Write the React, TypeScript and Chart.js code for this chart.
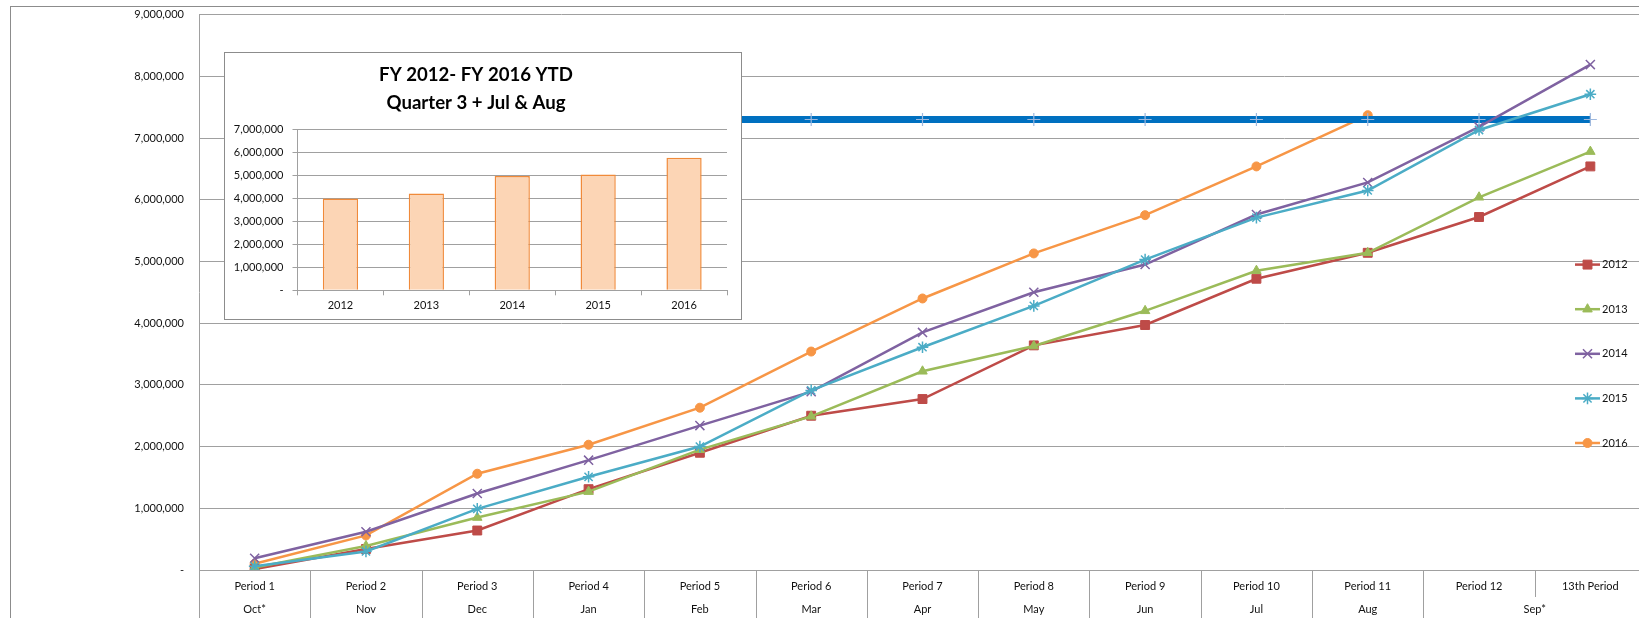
import React, { useEffect, useRef } from 'react';
import { Chart, registerables } from 'chart.js';
import { drawPoint } from 'chart.js/helpers';

Chart.register(...registerables);

// ---------- data ----------
const periods = ['Period 1', 'Period 2', 'Period 3', 'Period 4', 'Period 5', 'Period 6', 'Period 7', 'Period 8', 'Period 9', 'Period 10', 'Period 11', 'Period 12', '13th Period'];
const months = ['Oct*', 'Nov', 'Dec', 'Jan', 'Feb', 'Mar', 'Apr', 'May', 'Jun', 'Jul', 'Aug', 'Sep*'];
const monthSpans = [1, 1, 1, 1, 1, 1, 1, 1, 1, 1, 1, 2];

const fy2012 = [15000, 340000, 640000, 1310000, 1900000, 2500000, 2770000, 3640000, 3970000, 4720000, 5140000, 5720000, 6540000];
const fy2013 = [40000, 390000, 850000, 1270000, 1950000, 2490000, 3220000, 3630000, 4200000, 4850000, 5140000, 6040000, 6780000];
const fy2014 = [190000, 620000, 1240000, 1780000, 2340000, 2890000, 3850000, 4500000, 4950000, 5760000, 6280000, 7180000, 8190000];
const fy2015 = [60000, 300000, 990000, 1510000, 2000000, 2910000, 3610000, 4280000, 5030000, 5710000, 6150000, 7130000, 7710000];
const fy2016 = [100000, 560000, 1560000, 2030000, 2630000, 3540000, 4400000, 5130000, 5750000, 6540000, 7370000, null, null];
const target = [7300000, 7300000, 7300000, 7300000, 7300000, 7300000, 7300000, 7300000, 7300000, 7300000, 7300000, 7300000, 7300000];

const seriesLabels = ['2012', '2013', '2014', '2015', '2016'];

const insetYears = ['2012', '2013', '2014', '2015', '2016'];
const insetValues = [4000000, 4210000, 4970000, 5040000, 5770000];
const insetTitle = ['FY 2012- FY 2016 YTD', 'Quarter 3 + Jul & Aug'];

// ---------- styles ----------
const FONT = 'Lato, "Open Sans", sans-serif';
const GRID = '#a0a0a0';
const TEXT = '#111111';

const fmt = (v: any) => (Number(v) === 0 ? '-' : Number(v).toLocaleString('en-US'));

const xAxisExtras = {
  id: 'xAxisExtras',
  afterDraw(chart: any) {
    const { ctx, chartArea } = chart;
    const xs = chart.scales.x;
    const n = periods.length;
    const catW = (xs.right - xs.left) / n;
    const top = chartArea.bottom;
    const bottom = chart.height;
    const rowSplit = top + 27;
    const monthBoundaries = new Set<number>();
    let acc = 0;
    monthBoundaries.add(0);
    monthSpans.forEach((s) => {
      acc += s;
      monthBoundaries.add(acc);
    });
    ctx.save();
    ctx.strokeStyle = GRID;
    ctx.lineWidth = 1;
    for (let i = 0; i <= n; i++) {
      const px = Math.round(xs.left + i * catW) + 0.5;
      ctx.beginPath();
      ctx.moveTo(px, top);
      ctx.lineTo(px, monthBoundaries.has(i) ? bottom : rowSplit);
      ctx.stroke();
    }
    ctx.fillStyle = TEXT;
    ctx.font = `11px ${FONT}`;
    ctx.textAlign = 'center';
    ctx.textBaseline = 'middle';
    let start = 0;
    months.forEach((m, k) => {
      const span = monthSpans[k];
      const cx = (xs.getPixelForValue(start) + xs.getPixelForValue(start + span - 1)) / 2;
      ctx.fillText(m, cx, top + 39);
      start += span;
    });
    ctx.restore();
  },
};

const sideLegend = {
  id: 'sideLegend',
  afterDraw(chart: any) {
    const { ctx, chartArea } = chart;
    const x0 = chartArea.right - 71;
    const x1 = x0 + 25;
    const y0 = chartArea.top + 250;
    const step = 44.6;
    ctx.save();
    ctx.font = `11px ${FONT}`;
    ctx.textAlign = 'left';
    ctx.textBaseline = 'middle';
    let k = 0;
    chart.data.datasets.forEach((ds: any) => {
      if (!seriesLabels.includes(ds.label)) return;
      const y = y0 + k * step;
      ctx.strokeStyle = ds.borderColor;
      ctx.lineWidth = ds.borderWidth;
      ctx.beginPath();
      ctx.moveTo(x0, y);
      ctx.lineTo(x1, y);
      ctx.stroke();
      ctx.fillStyle = ds.pointBackgroundColor;
      ctx.strokeStyle = ds.pointBorderColor;
      ctx.lineWidth = ds.pointBorderWidth;
      drawPoint(ctx, { pointStyle: ds.pointStyle, radius: ds.pointRadius, rotation: 0, borderWidth: ds.pointBorderWidth } as any, (x0 + x1) / 2, y);
      ctx.fillStyle = TEXT;
      ctx.fillText(ds.label, x1 + 2, y);
      k++;
    });
    ctx.restore();
  },
};

function series(label: string, data: any[], color: string, style: string, radius: number, bw: number, order: number) {
  return {
    label,
    data,
    borderColor: color,
    backgroundColor: color,
    borderWidth: 2.5,
    pointStyle: style,
    pointRadius: radius,
    pointBackgroundColor: color,
    pointBorderColor: color,
    pointBorderWidth: bw,
    tension: 0,
    order,
  };
}

export default function App() {
  const mainRef = useRef<HTMLCanvasElement | null>(null);
  const insetRef = useRef<HTMLCanvasElement | null>(null);

  useEffect(() => {
    const main = new Chart(mainRef.current as HTMLCanvasElement, {
      type: 'line',
      data: {
        labels: periods,
        datasets: [
          series('2012', fy2012, '#BE4B48', 'rect', 6.3, 1, 4),
          series('2013', fy2013, '#9BBB59', 'triangle', 5.5, 1, 3),
          series('2014', fy2014, '#7F62A1', 'crossRot', 6.4, 1.5, 2),
          series('2015', fy2015, '#4BACC6', 'star', 5.8, 1.5, 1),
          series('2016', fy2016, '#F79646', 'circle', 4.5, 1, 6),
          {
            label: 'Target',
            data: target,
            borderColor: '#0070C0',
            backgroundColor: '#0070C0',
            borderWidth: 7,
            pointStyle: 'cross',
            pointRadius: 6.5,
            pointBorderColor: '#9DB8DE',
            pointBackgroundColor: '#9DB8DE',
            pointBorderWidth: 1.2,
            tension: 0,
            order: 5,
          } as any,
        ],
      },
      options: {
        responsive: false,
        animation: false,
        layout: { autoPadding: false, padding: { left: 0, right: 54, top: 14.6, bottom: 0 } },
        plugins: {
          legend: { display: false },
          tooltip: { enabled: false },
          title: { display: false },
        },
        scales: {
          x: {
            type: 'category',
            offset: true,
            grid: { display: false, drawTicks: false },
            border: { display: true, color: GRID, width: 1 },
            ticks: { color: TEXT, font: { family: FONT, size: 11 }, padding: 9.4, maxRotation: 0, autoSkip: false },
            afterFit: (s: any) => {
              s.height = 48;
              s.paddingLeft = 0;
              s.paddingRight = 0;
            },
          },
          y: {
            min: 0,
            max: 9000000,
            grid: { color: GRID, drawTicks: false },
            border: { display: true, color: GRID, width: 1 },
            ticks: { stepSize: 1000000, color: TEXT, font: { family: FONT, size: 11 }, padding: 15, callback: fmt },
            afterFit: (s: any) => {
              s.width = 199;
              s.paddingTop = 0;
              s.paddingBottom = 0;
            },
          },
        },
      } as any,
      plugins: [xAxisExtras, sideLegend],
    });

    const inset = new Chart(insetRef.current as HTMLCanvasElement, {
      type: 'bar',
      data: {
        labels: insetYears,
        datasets: [
          {
            label: 'YTD',
            data: insetValues,
            backgroundColor: '#FCD5B5',
            borderColor: '#F08A3A',
            borderWidth: 1.5,
            barPercentage: 0.41,
            categoryPercentage: 1,
          },
        ],
      },
      options: {
        responsive: false,
        animation: false,
        layout: { padding: { left: 0, right: 14, top: 0, bottom: 0 } },
        plugins: {
          legend: { display: false },
          tooltip: { enabled: false },
          title: {
            display: true,
            text: insetTitle,
            color: '#000',
            font: { family: FONT, size: 18.6, weight: 'bold', lineHeight: 28.3 / 18.6 },
            padding: { top: 7.85, bottom: 12 },
          },
        },
        scales: {
          x: {
            grid: { offset: true, drawOnChartArea: false, drawTicks: true, tickLength: 5, color: GRID },
            border: { display: true, color: GRID },
            ticks: { color: TEXT, font: { family: FONT, size: 11 }, padding: 4 },
            afterFit: (s: any) => {
              s.height = 28.7;
            },
          },
          y: {
            min: 0,
            max: 7000000,
            grid: { color: GRID, drawTicks: true, tickLength: 5 },
            border: { display: true, color: GRID },
            ticks: { stepSize: 1000000, color: TEXT, font: { family: FONT, size: 11 }, padding: 9, callback: fmt },
            afterFit: (s: any) => {
              s.width = 72.5;
            },
          },
        },
      } as any,
    });

    return () => {
      main.destroy();
      inset.destroy();
    };
  }, []);

  return (
    <div style={{ position: 'fixed', left: 0, top: 0, width: 1639, height: 618, overflow: 'hidden', background: '#fff' }}>
      <div style={{ position: 'absolute', left: 10, top: 6, width: 2000, height: 2000, border: '1px solid #8c8c8c', boxSizing: 'border-box' }} />
      <canvas ref={mainRef} width={1700} height={618} style={{ position: 'absolute', left: 0, top: 0 }} />
      <div style={{ position: 'absolute', left: 224, top: 52, width: 518, height: 268, border: '1px solid #8c8c8c', boxSizing: 'border-box', background: '#fff' }}>
        <canvas ref={insetRef} width={516} height={266} style={{ position: 'absolute', left: 0, top: 0 }} />
      </div>
    </div>
  );
}
